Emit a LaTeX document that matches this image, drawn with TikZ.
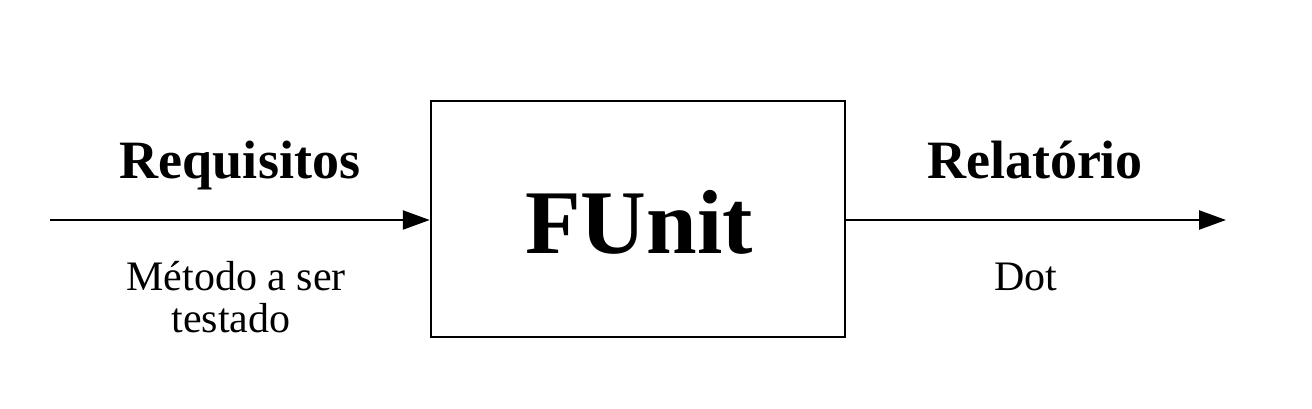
\documentclass[tikz,border=0pt]{standalone}
\usepackage{fontspec}
\setmainfont{Liberation Serif}
\usetikzlibrary{arrows.meta}
\tikzset{
  flow/.style={line width=2.5pt,-{Triangle[length=27pt,width=19pt]}},
  boxstyle/.style={draw,line width=2.5pt,minimum width=414pt,minimum height=236pt,inner sep=0pt},
  bigtitle/.style={font=\fontsize{54}{60}\selectfont\bfseries,anchor=base,inner sep=0pt},
  smalltxt/.style={font=\fontsize{42}{48}\selectfont,anchor=base,inner sep=0pt,align=center},
}
\begin{document}
\begin{tikzpicture}[x=1pt,y=1pt]
\useasboundingbox (0,0) rectangle (1312,408);
\node[boxstyle] (funit) at (638,189) {};
\node[font=\fontsize{91}{96}\selectfont\bfseries,anchor=base,inner sep=0pt] (ftext) at (639,155) {FUnit};
\coordinate (in) at (50,188);
\coordinate (out) at (1226,188);
\draw[flow] (in) -- (funit.west |- in);
\draw[flow] (funit.east |- out) -- (out);
\node[bigtitle] (req) at (240,230) {Requisitos};
\node[bigtitle] (rel) at (1035,230) {Relatório};
\node[smalltxt] (met) at (236,118) {Método a ser};
\node[smalltxt] (tes) at (231,76) {testado};
\node[smalltxt] (dot) at (1026,118) {Dot};
\end{tikzpicture}
\end{document}
